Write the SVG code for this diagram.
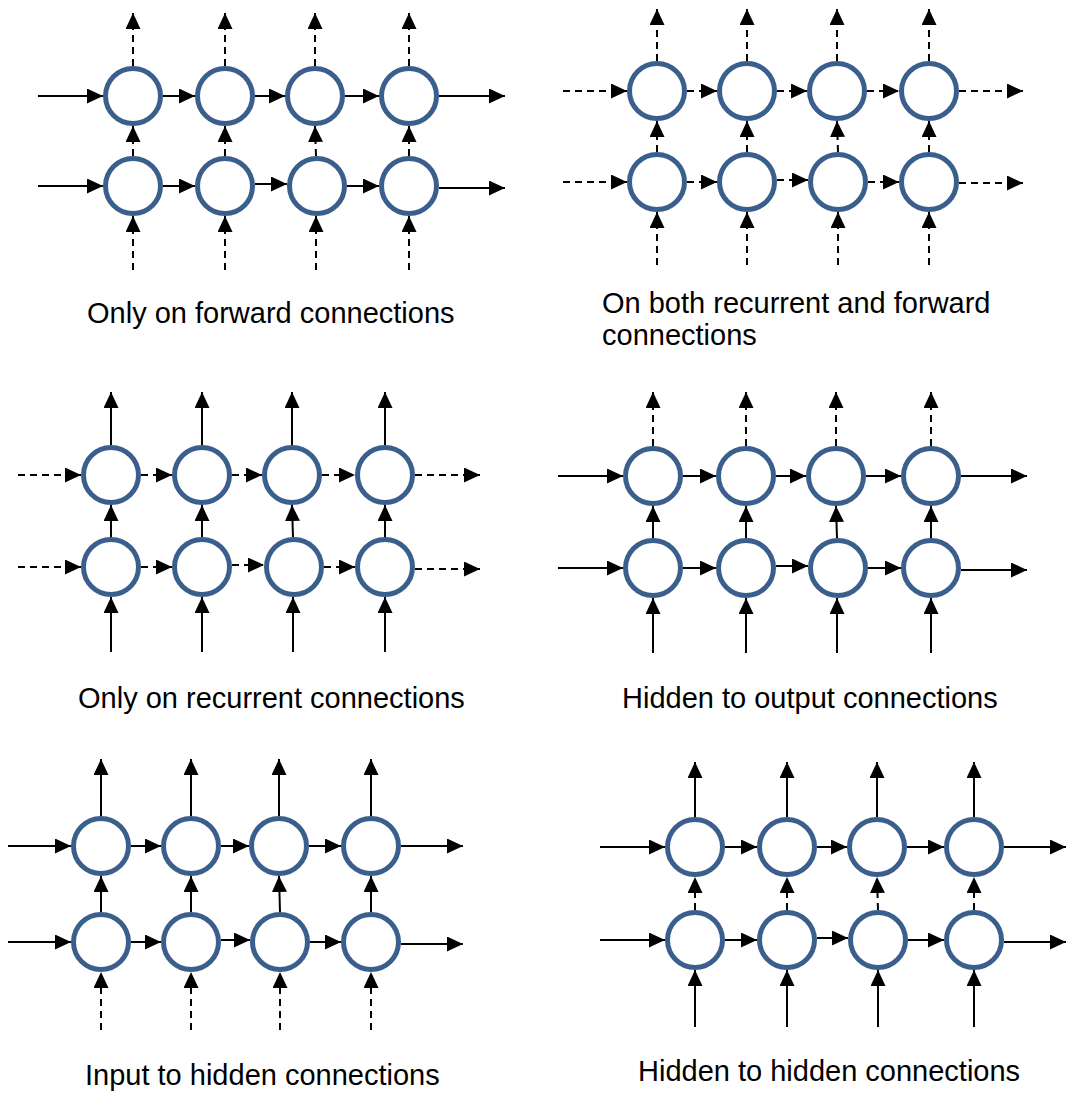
<svg xmlns="http://www.w3.org/2000/svg" width="1066" height="1098" viewBox="0 0 1066 1098">
  <defs>
    <marker id="ah" viewBox="0 0 16 15" refX="16" refY="7.5" markerWidth="16" markerHeight="15" markerUnits="userSpaceOnUse" orient="auto">
      <path d="M0,0 L16,7.5 L0,15 z" fill="#000"/>
    </marker>
  </defs>
  <style>
    .node { fill: #fff; stroke: #3b5f8c; stroke-width: 5; }
    .s { fill: none; stroke: #000; stroke-width: 2; marker-end: url(#ah); }
    .d { fill: none; stroke: #000; stroke-width: 2; stroke-dasharray: 7 5; marker-end: url(#ah); }
    .lbl { font-family: "Liberation Sans", Arial, sans-serif; font-size: 29px; fill: #000; }
  </style>
  <rect width="1066" height="1098" fill="#fff"/>

  <!-- connectors -->
  <g id="connectors">
    <!-- panel 1: dropout only on forward (vertical) connections -->
    <g id="c-p1">
      <path class="s" d="M38,96 H103"/>
      <path class="s" d="M163,96 H195"/>
      <path class="s" d="M255,96 H285"/>
      <path class="s" d="M345,96 H379"/>
      <path class="s" d="M439,96 H505"/>
      <path class="s" d="M38,186 H103"/>
      <path class="s" d="M163,186 H195"/>
      <path class="s" d="M255,184 H287"/>
      <path class="s" d="M347,186 H379"/>
      <path class="s" d="M439,188 H505"/>
      <path class="d" d="M133,66 V13"/>
      <path class="d" d="M225,66 V13"/>
      <path class="d" d="M315,66 V13"/>
      <path class="d" d="M409,66 V13"/>
      <path class="d" d="M133,156 V126"/>
      <path class="d" d="M225,156 V126"/>
      <path class="d" d="M316,156 L315,126"/>
      <path class="d" d="M409,156 V126"/>
      <path class="d" d="M133,270 V216"/>
      <path class="d" d="M225,270 V216"/>
      <path class="d" d="M316,270 V216"/>
      <path class="d" d="M409,270 V216"/>
    </g>
    <!-- panel 2: dropout on every connection -->
    <g id="c-p2">
      <path class="d" d="M563,91 H627"/>
      <path class="d" d="M687,91 H717"/>
      <path class="d" d="M777,91 H807"/>
      <path class="d" d="M867,91 H899"/>
      <path class="d" d="M959,91 H1023"/>
      <path class="d" d="M563,182 H627"/>
      <path class="d" d="M687,182 H717"/>
      <path class="d" d="M777,180 H808"/>
      <path class="d" d="M868,182 H899"/>
      <path class="d" d="M959,183 H1023"/>
      <path class="d" d="M657,61 V9"/>
      <path class="d" d="M747,61 V9"/>
      <path class="d" d="M837,61 V9"/>
      <path class="d" d="M929,61 V9"/>
      <path class="d" d="M657,152 V121"/>
      <path class="d" d="M747,152 V121"/>
      <path class="d" d="M838,152 L837,121"/>
      <path class="d" d="M929,152 V121"/>
      <path class="d" d="M657,265 V212"/>
      <path class="d" d="M747,265 V212"/>
      <path class="d" d="M838,265 V212"/>
      <path class="d" d="M929,265 V212"/>
    </g>
    <!-- panel 3: dropout only on recurrent (horizontal) connections -->
    <g id="c-p3">
      <path class="d" d="M18,475 H81"/>
      <path class="d" d="M141,475 H172"/>
      <path class="d" d="M232,475 H262"/>
      <path class="d" d="M322,475 H355"/>
      <path class="d" d="M415,475 H480"/>
      <path class="d" d="M18,567 H81"/>
      <path class="d" d="M141,567 H172"/>
      <path class="d" d="M232,565 H264"/>
      <path class="d" d="M324,567 H355"/>
      <path class="d" d="M415,569 H480"/>
      <path class="s" d="M111,445 V392"/>
      <path class="s" d="M202,445 V392"/>
      <path class="s" d="M292,445 V392"/>
      <path class="s" d="M385,445 V392"/>
      <path class="s" d="M111,537 V505"/>
      <path class="s" d="M202,537 V505"/>
      <path class="s" d="M293,537 L292,505"/>
      <path class="s" d="M385,537 V505"/>
      <path class="s" d="M111,652 V597"/>
      <path class="s" d="M202,652 V597"/>
      <path class="s" d="M293,652 V597"/>
      <path class="s" d="M385,652 V597"/>
    </g>
    <!-- panel 4: dropout on hidden-to-output connections -->
    <g id="c-p4">
      <path class="s" d="M558,476 H623"/>
      <path class="s" d="M683,476 H716"/>
      <path class="s" d="M776,476 H806"/>
      <path class="s" d="M866,476 H901"/>
      <path class="s" d="M961,476 H1027"/>
      <path class="s" d="M558,568 H623"/>
      <path class="s" d="M683,568 H716"/>
      <path class="s" d="M776,566 H808"/>
      <path class="s" d="M868,568 H901"/>
      <path class="s" d="M961,570 H1027"/>
      <path class="d" d="M653,446 V392"/>
      <path class="d" d="M746,446 V392"/>
      <path class="d" d="M836,446 V392"/>
      <path class="d" d="M931,446 V392"/>
      <path class="s" d="M653,538 V506"/>
      <path class="s" d="M746,538 V506"/>
      <path class="s" d="M837,538 L836,506"/>
      <path class="s" d="M931,538 V506"/>
      <path class="s" d="M653,653 V598"/>
      <path class="s" d="M746,653 V598"/>
      <path class="s" d="M837,653 V598"/>
      <path class="s" d="M931,653 V598"/>
    </g>
    <!-- panel 5: dropout on input-to-hidden connections -->
    <g id="c-p5">
      <path class="s" d="M8,846 H71"/>
      <path class="s" d="M131,846 H161"/>
      <path class="s" d="M221,846 H249"/>
      <path class="s" d="M309,846 H341"/>
      <path class="s" d="M401,846 H463"/>
      <path class="s" d="M8,942 H71"/>
      <path class="s" d="M131,942 H161"/>
      <path class="s" d="M221,940 H250"/>
      <path class="s" d="M310,942 H341"/>
      <path class="s" d="M401,944 H463"/>
      <path class="s" d="M101,816 V759"/>
      <path class="s" d="M191,816 V759"/>
      <path class="s" d="M279,816 V759"/>
      <path class="s" d="M371,816 V759"/>
      <path class="s" d="M101,912 V876"/>
      <path class="s" d="M191,912 V876"/>
      <path class="s" d="M280,912 L279,876"/>
      <path class="s" d="M371,912 V876"/>
      <path class="d" d="M101,1030 V972"/>
      <path class="d" d="M191,1030 V972"/>
      <path class="d" d="M280,1030 V972"/>
      <path class="d" d="M371,1030 V972"/>
    </g>
    <!-- panel 6: dropout on hidden-to-hidden connections -->
    <g id="c-p6">
      <path class="s" d="M600,847 H665"/>
      <path class="s" d="M725,847 H757"/>
      <path class="s" d="M817,847 H847"/>
      <path class="s" d="M907,847 H944"/>
      <path class="s" d="M1004,847 H1066"/>
      <path class="s" d="M600,940 H665"/>
      <path class="s" d="M725,940 H757"/>
      <path class="s" d="M817,938 H848"/>
      <path class="s" d="M908,940 H944"/>
      <path class="s" d="M1004,942 H1066"/>
      <path class="s" d="M695,817 V762"/>
      <path class="s" d="M787,817 V762"/>
      <path class="s" d="M877,817 V762"/>
      <path class="s" d="M974,817 V762"/>
      <path class="d" d="M695,910 V877"/>
      <path class="d" d="M787,910 V877"/>
      <path class="d" d="M878,910 L877,877"/>
      <path class="d" d="M974,910 V877"/>
      <path class="s" d="M695,1027 V970"/>
      <path class="s" d="M787,1027 V970"/>
      <path class="s" d="M878,1027 V970"/>
      <path class="s" d="M974,1027 V970"/>
    </g>
  </g>

  <!-- nodes: panel 1 -->
  <g id="p1-t1"><circle class="node" cx="133" cy="96" r="27.5"/></g>
  <g id="p1-t2"><circle class="node" cx="225" cy="96" r="27.5"/></g>
  <g id="p1-t3"><circle class="node" cx="315" cy="96" r="27.5"/></g>
  <g id="p1-t4"><circle class="node" cx="409" cy="96" r="27.5"/></g>
  <g id="p1-b1"><circle class="node" cx="133" cy="186" r="27.5"/></g>
  <g id="p1-b2"><circle class="node" cx="225" cy="186" r="27.5"/></g>
  <g id="p1-b3"><circle class="node" cx="317" cy="186" r="27.5"/></g>
  <g id="p1-b4"><circle class="node" cx="409" cy="186" r="27.5"/></g>

  <!-- nodes: panel 2 -->
  <g id="p2-t1"><circle class="node" cx="657" cy="91" r="27.5"/></g>
  <g id="p2-t2"><circle class="node" cx="747" cy="91" r="27.5"/></g>
  <g id="p2-t3"><circle class="node" cx="837" cy="91" r="27.5"/></g>
  <g id="p2-t4"><circle class="node" cx="929" cy="91" r="27.5"/></g>
  <g id="p2-b1"><circle class="node" cx="657" cy="182" r="27.5"/></g>
  <g id="p2-b2"><circle class="node" cx="747" cy="182" r="27.5"/></g>
  <g id="p2-b3"><circle class="node" cx="838" cy="182" r="27.5"/></g>
  <g id="p2-b4"><circle class="node" cx="929" cy="182" r="27.5"/></g>

  <!-- nodes: panel 3 -->
  <g id="p3-t1"><circle class="node" cx="111" cy="475" r="27.5"/></g>
  <g id="p3-t2"><circle class="node" cx="202" cy="475" r="27.5"/></g>
  <g id="p3-t3"><circle class="node" cx="292" cy="475" r="27.5"/></g>
  <g id="p3-t4"><circle class="node" cx="385" cy="475" r="27.5"/></g>
  <g id="p3-b1"><circle class="node" cx="111" cy="567" r="27.5"/></g>
  <g id="p3-b2"><circle class="node" cx="202" cy="567" r="27.5"/></g>
  <g id="p3-b3"><circle class="node" cx="294" cy="567" r="27.5"/></g>
  <g id="p3-b4"><circle class="node" cx="385" cy="567" r="27.5"/></g>

  <!-- nodes: panel 4 -->
  <g id="p4-t1"><circle class="node" cx="653" cy="476" r="27.5"/></g>
  <g id="p4-t2"><circle class="node" cx="746" cy="476" r="27.5"/></g>
  <g id="p4-t3"><circle class="node" cx="836" cy="476" r="27.5"/></g>
  <g id="p4-t4"><circle class="node" cx="931" cy="476" r="27.5"/></g>
  <g id="p4-b1"><circle class="node" cx="653" cy="568" r="27.5"/></g>
  <g id="p4-b2"><circle class="node" cx="746" cy="568" r="27.5"/></g>
  <g id="p4-b3"><circle class="node" cx="838" cy="568" r="27.5"/></g>
  <g id="p4-b4"><circle class="node" cx="931" cy="568" r="27.5"/></g>

  <!-- nodes: panel 5 -->
  <g id="p5-t1"><circle class="node" cx="101" cy="846" r="27.5"/></g>
  <g id="p5-t2"><circle class="node" cx="191" cy="846" r="27.5"/></g>
  <g id="p5-t3"><circle class="node" cx="279" cy="846" r="27.5"/></g>
  <g id="p5-t4"><circle class="node" cx="371" cy="846" r="27.5"/></g>
  <g id="p5-b1"><circle class="node" cx="101" cy="942" r="27.5"/></g>
  <g id="p5-b2"><circle class="node" cx="191" cy="942" r="27.5"/></g>
  <g id="p5-b3"><circle class="node" cx="280" cy="942" r="27.5"/></g>
  <g id="p5-b4"><circle class="node" cx="371" cy="942" r="27.5"/></g>

  <!-- nodes: panel 6 -->
  <g id="p6-t1"><circle class="node" cx="695" cy="847" r="27.5"/></g>
  <g id="p6-t2"><circle class="node" cx="787" cy="847" r="27.5"/></g>
  <g id="p6-t3"><circle class="node" cx="877" cy="847" r="27.5"/></g>
  <g id="p6-t4"><circle class="node" cx="974" cy="847" r="27.5"/></g>
  <g id="p6-b1"><circle class="node" cx="695" cy="940" r="27.5"/></g>
  <g id="p6-b2"><circle class="node" cx="787" cy="940" r="27.5"/></g>
  <g id="p6-b3"><circle class="node" cx="878" cy="940" r="27.5"/></g>
  <g id="p6-b4"><circle class="node" cx="974" cy="940" r="27.5"/></g>

  <!-- captions -->
  <g id="captions">
    <text class="lbl" x="87" y="323">Only on forward connections</text>
    <text class="lbl" x="602" y="313">On both recurrent and forward</text>
    <text class="lbl" x="602" y="345">connections</text>
    <text class="lbl" x="78" y="708">Only on recurrent connections</text>
    <text class="lbl" x="622" y="708">Hidden to output connections</text>
    <text class="lbl" x="85" y="1085">Input to hidden connections</text>
    <text class="lbl" x="638" y="1081">Hidden to hidden connections</text>
  </g>
</svg>
